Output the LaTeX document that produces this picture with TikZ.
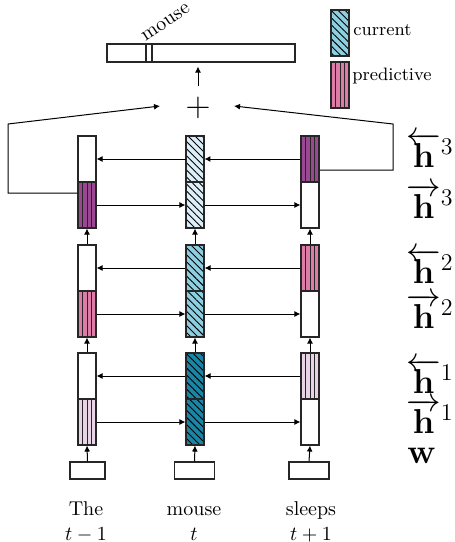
\documentclass[tikz,border=0pt]{standalone}
\usetikzlibrary{patterns.meta,arrows.meta}
\definecolor{cA}{HTML}{DCEFF9}
\definecolor{cB}{HTML}{8DCFE0}
\definecolor{cC}{HTML}{1A85A5}
\definecolor{pA}{HTML}{9B4893}
\definecolor{pB}{HTML}{DC7CA7}
\definecolor{pC}{HTML}{E9D3E7}
\begin{document}
\begin{tikzpicture}[x=0.5pt,y=-0.5pt,
  cell/.style={draw=black!85, line width=0.55pt, minimum width=9pt, minimum height=23pt, inner sep=0pt},
  cur/.style={cell, preaction={fill=#1}, pattern={Lines[angle=-45,distance=2.5pt,line width=0.45pt]}},
  pred/.style={cell, fill=#1, path picture={
      \draw[line width=0.45pt] (path picture bounding box.north) -- (path picture bounding box.south);
      \draw[line width=0.45pt] ([xshift=-2.25pt]path picture bounding box.north) -- ([xshift=-2.25pt]path picture bounding box.south);
      \draw[line width=0.45pt] ([xshift=2.25pt]path picture bounding box.north) -- ([xshift=2.25pt]path picture bounding box.south);}},
  inbox/.style={draw=black!85, line width=0.55pt, minimum width=20pt, minimum height=8.5pt, inner sep=0pt},
  arr/.style={-{Latex[length=3pt,width=3pt]}, line width=0.5pt},
  lab/.style={anchor=base west, font=\LARGE, inner sep=0pt},
  word/.style={anchor=base, inner sep=0pt}]
\useasboundingbox (0,0) rectangle (455,542);

% layer 3
\node[cell] (b3l) at (87,159) {};
\node[pred=pA] (f3l) at (87,205) {};
\node[cur=cA] (b3m) at (195,159) {};
\node[cur=cA] (f3m) at (195,205) {};
\node[pred=pA] (b3r) at (310,159) {};
\node[cell] (f3r) at (310,205) {};
% layer 2
\node[cell] (b2l) at (87,268) {};
\node[pred=pB] (f2l) at (87,314) {};
\node[cur=cB] (b2m) at (195,268) {};
\node[cur=cB] (f2m) at (195,314) {};
\node[pred=pB] (b2r) at (310,268) {};
\node[cell] (f2r) at (310,314) {};
% layer 1
\node[cell] (b1l) at (87,376) {};
\node[pred=pC] (f1l) at (87,422) {};
\node[cur=cC] (b1m) at (195,376) {};
\node[cur=cC] (f1m) at (195,422) {};
\node[pred=pC] (b1r) at (310,376) {};
\node[cell] (f1r) at (310,422) {};
% inputs
\node[inbox, minimum width=17.5pt] (wl) at (87.5,470.5) {};
\node[inbox] (wm) at (194.5,470.5) {};
\node[inbox] (wr) at (309,470.5) {};

% horizontal arrows
\foreach \k in {1,2,3}{
  \draw[arr] (b\k m.west) -- (b\k l.east);
  \draw[arr] (b\k r.west) -- (b\k m.east);
  \draw[arr] (f\k l.east) -- (f\k m.west);
  \draw[arr] (f\k m.east) -- (f\k r.west);
}
% vertical arrows
\foreach \c in {l,m,r}{
  \draw[arr] (w\c.north) -- (f1\c.south);
  \draw[arr] (b1\c.north) -- (f2\c.south);
  \draw[arr] (b2\c.north) -- (f3\c.south);
}

% combination
\node[font=\LARGE, inner sep=0pt] (plus) at (198,108) {$+$};
\node[draw=black!85, line width=0.55pt, minimum width=94pt, minimum height=9pt, inner sep=0pt] (bar) at (201,53) {};
\node[draw=black!85, line width=0.55pt, minimum width=3pt, minimum height=9pt, inner sep=0pt] (mk) at (149,53) {};
\node[rotate=34, anchor=south west, inner sep=0.5pt] (mlab) at (mk.north west) {mouse};
\coordinate (up0) at (198,86);
\draw[arr, shorten >=2pt] (up0) -- (up0 |- bar.south);

\coordinate (lc1) at (8,193);
\coordinate (lc2) at (8,124);
\coordinate (ltip) at (160,106);
\coordinate (rc1) at (393,170);
\coordinate (rc2) at (393,124);
\coordinate (rtip) at (234,106);
\draw[arr] (f3l.west |- lc1) -- (lc1) -- (lc2) -- (ltip);
\draw[arr] (b3r.east |- rc1) -- (rc1) -- (rc2) -- (rtip);

% legend
\node[cur=cB] (lgc) at (340,33) {};
\node[pred=pB] (lgp) at (340,85) {};
\node[anchor=base west, font=\small, inner sep=0pt] (lgct) at (353,35) {current};
\node[anchor=base west, font=\small, inner sep=0pt] (lgpt) at (352,80) {predictive};

% right labels
\node[lab] (lh3b) at (406,167) {$\overleftarrow{\mathbf{h}}{}^3$};
\node[lab] (lh3f) at (406,218) {$\overrightarrow{\mathbf{h}}{}^3$};
\node[lab] (lh2b) at (406,283) {$\overleftarrow{\mathbf{h}}{}^2$};
\node[lab] (lh2f) at (406,328) {$\overrightarrow{\mathbf{h}}{}^2$};
\node[lab] (lh1b) at (406,393) {$\overleftarrow{\mathbf{h}}{}^1$};
\node[lab] (lh1f) at (406,433) {$\overrightarrow{\mathbf{h}}{}^1$};
\node[lab] (lw) at (407,463) {$\mathbf{w}$};

% words
\node[word] (tw1) at (86,515) {The};
\node[word] (tw2) at (194,515) {mouse};
\node[word] (tw3) at (311,515) {sleeps};
\node[word] (tt1) at (86,540) {$t-1$};
\node[word] (tt2) at (194,540) {$t$};
\node[word] (tt3) at (311,540) {$t+1$};
\end{tikzpicture}
\end{document}
